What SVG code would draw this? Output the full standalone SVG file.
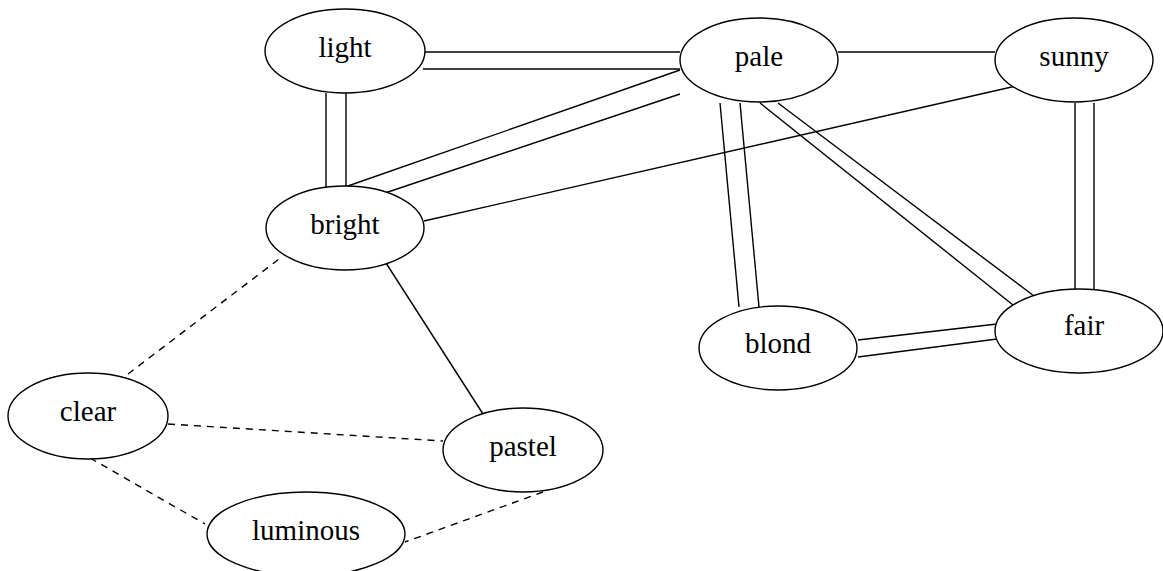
<svg xmlns="http://www.w3.org/2000/svg" width="1163" height="571" viewBox="0 0 1163 571">
  <style>
    .node ellipse { fill: #ffffff; stroke: #000000; stroke-width: 1.4; }
    .label { font-family: 'Liberation Serif', 'DejaVu Serif', serif; font-size: 29px; fill: #000000; text-anchor: middle; }
    .edges line { stroke: #000000; stroke-width: 1.4; fill: none; }
    .edges line.dashed { stroke-dasharray: 7 6; }
  </style>
  <rect x="0" y="0" width="1163" height="571" fill="#ffffff"/>

  <!-- connectors -->
  <g id="edges" class="edges">
    <!-- light - pale (double) -->
    <line x1="424" y1="52" x2="680" y2="52"/>
    <line x1="423" y1="69" x2="680" y2="69"/>
    <!-- light - bright (double) -->
    <line x1="326" y1="93" x2="326" y2="188"/>
    <line x1="346" y1="93" x2="346" y2="188"/>
    <!-- pale - bright (double) -->
    <line x1="680" y1="70" x2="345" y2="187"/>
    <line x1="680" y1="94" x2="385" y2="193"/>
    <!-- bright - sunny -->
    <line x1="424" y1="221" x2="1016" y2="86"/>
    <!-- pale - sunny -->
    <line x1="838" y1="52" x2="995" y2="52"/>
    <!-- pale - blond (double) -->
    <line x1="720" y1="103" x2="739" y2="307"/>
    <line x1="740" y1="103" x2="759" y2="307"/>
    <!-- pale - fair (double) -->
    <line x1="760" y1="103" x2="1013" y2="305"/>
    <line x1="778" y1="103" x2="1034" y2="296"/>
    <!-- sunny - fair (double) -->
    <line x1="1075" y1="103" x2="1075" y2="289"/>
    <line x1="1094" y1="103" x2="1094" y2="289"/>
    <!-- blond - fair (double) -->
    <line x1="858" y1="340" x2="997" y2="324"/>
    <line x1="858" y1="357" x2="997" y2="339"/>
    <!-- bright - pastel -->
    <line x1="386" y1="263" x2="483" y2="414"/>
    <!-- dashed links -->
    <line class="dashed" x1="128" y1="374" x2="283" y2="256"/>
    <line class="dashed" x1="168" y1="424" x2="443" y2="441"/>
    <line class="dashed" x1="90" y1="458" x2="205" y2="524"/>
    <line class="dashed" x1="543" y1="492" x2="405" y2="542"/>
  </g>

  <!-- nodes -->
  <g id="light" class="node">
    <ellipse cx="345" cy="51" rx="80" ry="42"/>
    <text class="label" x="345" y="57" font-family="Liberation Serif, serif">light</text>
  </g>
  <g id="pale" class="node">
    <ellipse cx="759" cy="60" rx="79" ry="42"/>
    <text class="label" x="759" y="66" font-family="Liberation Serif, serif">pale</text>
  </g>
  <g id="sunny" class="node">
    <ellipse cx="1074" cy="60" rx="79" ry="42"/>
    <text class="label" x="1074" y="66" font-family="Liberation Serif, serif">sunny</text>
  </g>
  <g id="bright" class="node">
    <ellipse cx="345" cy="228" rx="79" ry="42"/>
    <text class="label" x="345" y="234" font-family="Liberation Serif, serif">bright</text>
  </g>
  <g id="blond" class="node">
    <ellipse cx="778" cy="348" rx="79" ry="42"/>
    <text class="label" x="778" y="353" font-family="Liberation Serif, serif">blond</text>
  </g>
  <g id="fair" class="node">
    <ellipse cx="1079" cy="331" rx="84" ry="42"/>
    <text class="label" x="1084" y="335" font-family="Liberation Serif, serif">fair</text>
  </g>
  <g id="clear" class="node">
    <ellipse cx="88" cy="416" rx="80" ry="43"/>
    <text class="label" x="88" y="421" font-family="Liberation Serif, serif">clear</text>
  </g>
  <g id="pastel" class="node">
    <ellipse cx="523" cy="450" rx="80" ry="42"/>
    <text class="label" x="523" y="456" font-family="Liberation Serif, serif">pastel</text>
  </g>
  <g id="luminous" class="node">
    <ellipse cx="306" cy="534" rx="99" ry="42"/>
    <text class="label" x="306" y="540" font-family="Liberation Serif, serif">luminous</text>
  </g>
</svg>
